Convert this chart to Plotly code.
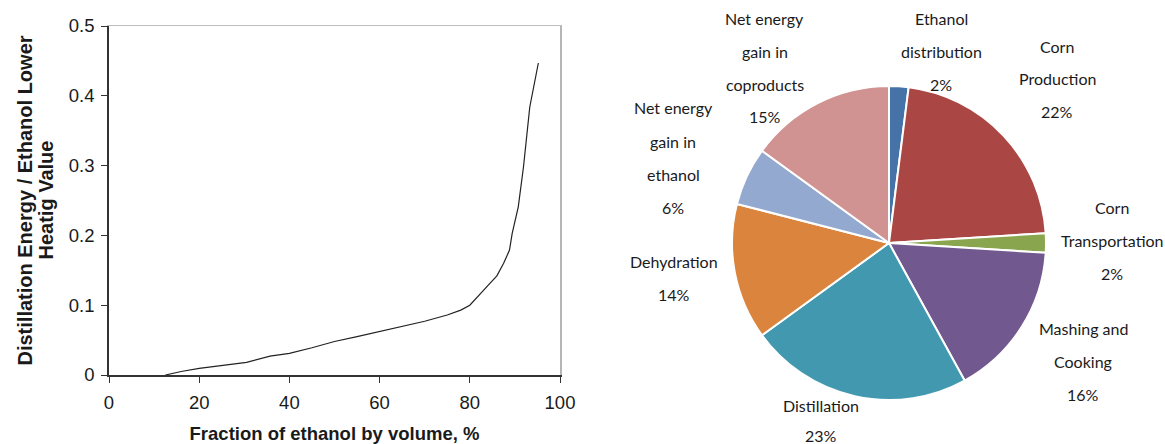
import plotly.graph_objects as go

# ---- Left chart data ----
ethanol_fraction = [12.5, 16, 20, 25, 30.5, 35.7, 40, 45, 50, 55, 60, 65, 70, 75, 78, 80, 82.3, 84, 86, 87.5, 88.8, 89.4, 90.75, 91.9, 93.3, 95.2]
energy_ratio = [0, 0.005, 0.0096, 0.014, 0.018, 0.027, 0.031, 0.039, 0.048, 0.055, 0.062, 0.069, 0.077, 0.086, 0.093, 0.100, 0.117, 0.128, 0.142, 0.160, 0.179, 0.203, 0.241, 0.298, 0.384, 0.447]
x_ticks = [0, 20, 40, 60, 80, 100]
y_ticks = [0, 0.1, 0.2, 0.3, 0.4, 0.5]
y_ticktext = ["0", "0.1", "0.2", "0.3", "0.4", "0.5"]
x_title = "Fraction of ethanol by volume, %"
y_title_lines = ["Distillation Energy / Ethanol Lower", "Heatig Value"]

# ---- Right chart data ----
pie_labels = ["Ethanol distribution", "Corn Production", "Corn Transportation", "Mashing and Cooking",
              "Distillation", "Dehydration", "Net energy gain in ethanol", "Net energy gain in coproducts"]
pie_values = [2, 22, 2, 16, 23, 14, 6, 15]
pie_colors = ["#4572A7", "#AA4643", "#89A54E", "#71588F", "#4198AF", "#DB843D", "#93A9CF", "#D19392"]
label_lines = [["Ethanol", "distribution"], ["Corn", "Production"], ["Corn", "Transportation"],
               ["Mashing and", "Cooking"], ["Distillation"], ["Dehydration"],
               ["Net energy", "gain in", "ethanol"], ["Net energy", "gain in", "coproducts"]]
# label anchor (pixel centre of first line) and line spacing
label_pos = [(941, 18), (1057, 46), (1112, 207), (1083, 328), (821, 405), (674, 261), (673, 108), (765, 18)]
label_spacing = [33, 33, 33, 33, 30, 33, 33, 33]

W, H = 1165, 444
fig = go.Figure()

fig.add_trace(go.Scatter(x=ethanol_fraction, y=energy_ratio, mode="lines",
                         line=dict(color="#222222", width=1.2), showlegend=False))

fig.add_trace(go.Pie(labels=pie_labels, values=pie_values, sort=False, direction="clockwise",
                     rotation=0, marker=dict(colors=pie_colors, line=dict(color="white", width=2)),
                     textinfo="none", hoverinfo="label+percent", showlegend=False, automargin=False,
                     domain=dict(x=[(889 - 157) / W, (889 + 157) / W], y=[1 - 400 / H, 1 - 86 / H])))

axis_font = dict(family="Liberation Sans, Arial", size=18.5, color="#1a1a1a")
xtitle_font = dict(family="Liberation Sans, Arial", size=18.5, color="#1a1a1a", weight="bold")
ytitle_font = dict(family="Liberation Sans, Arial", size=20, color="#1a1a1a", weight="bold")

xdom = [109 / W, 560 / W]
ydom = [1 - 375 / H, 1 - 26 / H]

fig.update_layout(
    width=W, height=H, margin=dict(l=0, r=0, t=0, b=0, autoexpand=False),
    paper_bgcolor="white", plot_bgcolor="white",
    xaxis=dict(domain=xdom, range=[0, 100], tickvals=x_ticks, ticks="outside", ticklen=6, automargin=False,
               tickcolor="#333", showline=True, linecolor="#333", linewidth=1.5, showgrid=False,
               zeroline=False, tickfont=axis_font, ticklabelstandoff=4,
               title=dict(text=x_title, font=xtitle_font, standoff=23)),
    yaxis=dict(domain=ydom, range=[0, 0.5], tickvals=y_ticks, ticktext=y_ticktext, automargin=False,
               ticks="outside", ticklen=6, tickcolor="#333", showline=True, linecolor="#333", linewidth=1.5,
               showgrid=False, zeroline=False, tickfont=axis_font, ticklabelstandoff=3),
    xaxis2=dict(domain=xdom, range=[0, 100], overlaying="x", side="top", showline=True, linecolor="#bdbdbd",
                linewidth=1, showticklabels=False, ticks="", showgrid=False, zeroline=False, automargin=False),
    yaxis2=dict(domain=ydom, range=[0, 0.5], overlaying="y", side="right", showline=True, linecolor="#b5b5b5",
                linewidth=2, showticklabels=False, ticks="", showgrid=False, zeroline=False, automargin=False),
)
# invisible trace to activate the mirror axes
fig.add_trace(go.Scatter(x=[None], y=[None], xaxis="x2", yaxis="y2", showlegend=False, hoverinfo="skip"))

# y-axis title: two rotated lines (tighter line spacing than plotly's built-in title)
ymid = (ydom[0] + ydom[1]) / 2
for i, t in enumerate(y_title_lines):
    fig.add_annotation(x=(24 + i * 21) / W, y=ymid, xref="paper", yref="paper", text=t, textangle=-90,
                       showarrow=False, font=ytitle_font, xanchor="center", yanchor="middle")

label_font = dict(family="Lato, Noto Sans", size=16, color="#1a1a1a")
for lines, val, (px, py), sp in zip(label_lines, pie_values, label_pos, label_spacing):
    all_lines = lines + [f"{val}%"]
    for i, t in enumerate(all_lines):
        fig.add_annotation(x=px / W, y=1 - (py + i * sp) / H, xref="paper", yref="paper",
                           text=t, showarrow=False, font=label_font, xanchor="center", yanchor="middle")

fig.write_html("out.html", config={"displayModeBar": False},
               post_script="document.body.style.margin='0';document.body.style.overflow='hidden';")
